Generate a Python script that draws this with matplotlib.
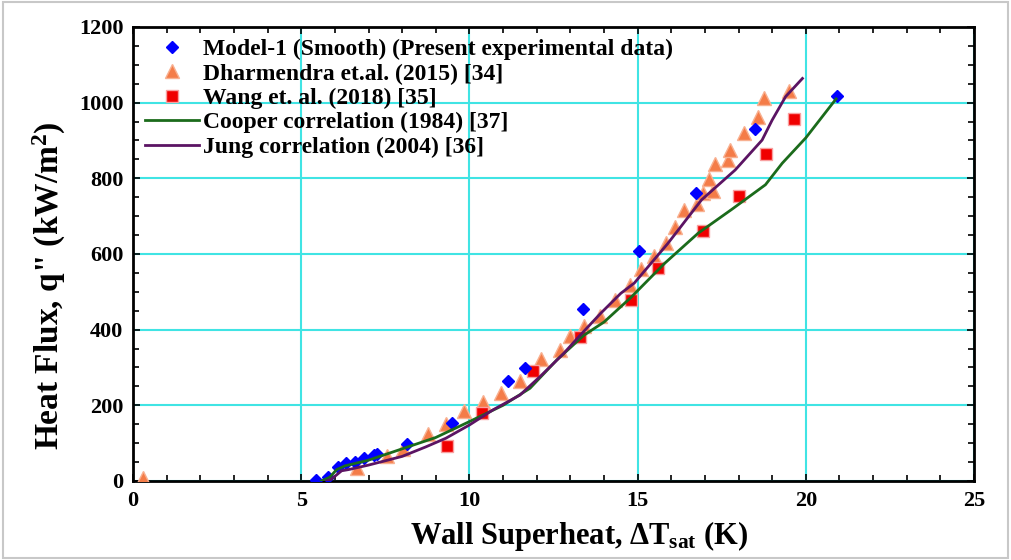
import matplotlib
matplotlib.use("Agg")
import matplotlib.pyplot as plt
from matplotlib.ticker import MultipleLocator
from matplotlib.patches import Rectangle

plt.rcParams['font.family'] = ['Liberation Serif', 'DejaVu Serif']
plt.rcParams['font.weight'] = 'bold'
plt.rcParams['mathtext.fontset'] = 'custom'
plt.rcParams['mathtext.rm'] = 'Liberation Serif:bold'
plt.rcParams['mathtext.it'] = 'Liberation Serif:bold'
plt.rcParams['mathtext.bf'] = 'Liberation Serif:bold'

# Model-1 (present experimental data)
model_x = [5.45, 5.8, 6.1, 6.33, 6.6, 6.87, 7.16, 7.25, 8.15, 9.47, 11.16, 11.65, 13.37, 15.05, 16.74, 18.49, 20.94]
model_q = [2, 10, 37, 48, 50, 61, 69, 71, 98, 154, 264, 299, 455, 609, 762, 930, 1018]

# Dharmendra et al. (2015)
dhar_x = [0.3, 6.65, 7.55, 8.02, 8.76, 9.3, 9.84, 10.41, 10.93, 11.5, 12.12, 12.69, 12.99, 13.41, 13.88,
          14.33, 14.77, 15.09, 15.49, 15.84, 16.11, 16.39, 16.76, 16.95, 17.23, 17.12, 17.3, 17.7, 17.75,
          18.16, 18.59, 18.76, 19.51]
dhar_q = [8, 35, 65, 85, 124, 150, 184, 208, 233, 265, 322, 345, 382, 410, 435,
          478, 518, 560, 595, 630, 671, 716, 731, 760, 767, 797, 837, 848, 875,
          921, 961, 1012, 1031]

# Wang et al. (2018)
wang_x = [9.32, 10.37, 11.9, 13.29, 14.79, 15.62, 16.93, 18.0, 18.82, 19.65]
wang_q = [93, 179, 290, 381, 478, 564, 662, 753, 864, 956]

# Cooper correlation (1984)
cooper_x = [5.6, 5.85, 6.05, 6.3, 7.0, 8.0, 9.0, 10.0, 11.0, 11.8, 12.6, 13.4, 14.0, 14.8, 15.8,
            16.8, 17.8, 18.8, 19.3, 20.0, 20.9]
cooper_q = [0, 10, 30, 40, 55, 85, 115, 157, 200, 245, 320, 385, 420, 485, 575,
            655, 718, 783, 840, 907, 1010]

# Jung correlation (2004)
jung_x = [5.75, 5.9, 6.2, 6.4, 7.0, 8.0, 8.7, 9.3, 10.0, 10.7, 11.5, 12.1, 12.8, 13.3, 13.9, 14.5,
          14.9, 15.9, 16.9, 17.9, 18.7, 19.0, 19.4, 19.9]
jung_q = [0, 5, 27, 30, 42, 65, 90, 113, 148, 188, 227, 276, 337, 386, 443, 496,
          523, 628, 743, 822, 901, 954, 1016, 1064]

fig = plt.figure(figsize=(10.11, 5.6), dpi=100)
ax = fig.add_axes([0.1316, 0.1411, 0.8318, 0.8107])

ax.plot(model_x, model_q, 'D', color='#0000FF', markersize=6, linestyle='none',
        label='Model-1 (Smooth) (Present experimental data)', zorder=4)
ax.plot(dhar_x, dhar_q, '^', color='#F47C48', markeredgecolor='#F8B090', markersize=10,
        linestyle='none', label='Dharmendra et.al. (2015) [34]', zorder=3)
ax.plot(wang_x, wang_q, 's', color='#F00000', markeredgecolor='#F8A0A0', markersize=9,
        linestyle='none', label='Wang et. al. (2018) [35]', zorder=3)
ax.plot(cooper_x, cooper_q, '-', color='#1B6B1B', linewidth=2,
        label='Cooper correlation (1984) [37]', zorder=5)
ax.plot(jung_x, jung_q, '-', color='#5B1463', linewidth=2,
        label='Jung correlation (2004) [36]', zorder=5)

ax.set_xlim(0, 25)
ax.set_ylim(0, 1200)
ax.xaxis.set_major_locator(MultipleLocator(5))
ax.xaxis.set_minor_locator(MultipleLocator(1))
ax.yaxis.set_major_locator(MultipleLocator(200))
ax.yaxis.set_minor_locator(MultipleLocator(50))
ax.grid(True, which='major', color='#40E4E4', linewidth=1.5, zorder=0)
ax.set_axisbelow(True)
ax.tick_params(which='both', direction='in', top=True, right=True, labelsize=16, width=1.2)
ax.tick_params(which='major', length=5, pad=7)
ax.tick_params(which='minor', length=4)
for s in ax.spines.values():
    s.set_linewidth(2)

ax.set_xlabel(r'Wall Superheat, $\Delta T_{sat}$ (K)', fontsize=22, fontweight='bold', labelpad=6)
ax.set_ylabel(r'Heat Flux, q" (kW/m$^2$)', fontsize=24, fontweight='bold', labelpad=8)
ax.xaxis.label.set_x(0.53)
ax.yaxis.label.set_y(0.43)

leg = ax.legend(loc='upper left', bbox_to_anchor=(0.0, 1.0), frameon=False, fontsize=17,
                handlelength=2.3, handletextpad=0.15, labelspacing=0.12, borderaxespad=0.3,
                borderpad=0.2)
for t in leg.get_texts():
    t.set_fontweight('bold')

fig.patches.append(Rectangle((0.003, 0.004), 0.994, 0.992, transform=fig.transFigure,
                             fill=False, edgecolor='#C8C8C8', linewidth=1.5))

fig.savefig('out.png', dpi=100)
